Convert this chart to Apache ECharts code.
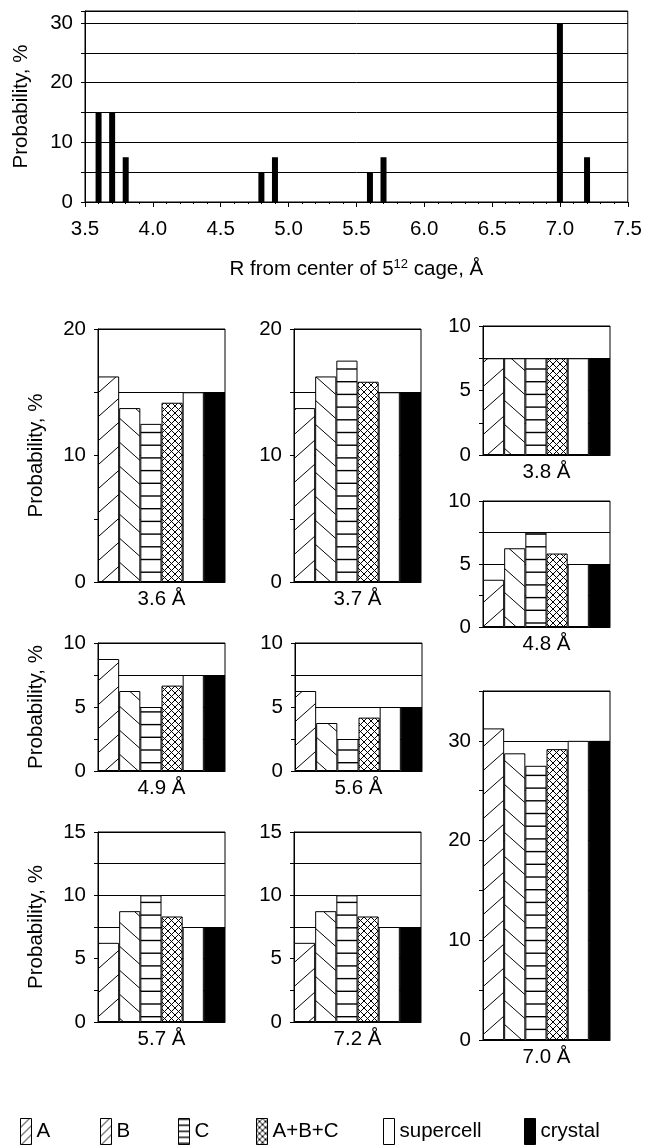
<!DOCTYPE html>
<html><head><meta charset="utf-8">
<script src="https://cdn.jsdelivr.net/npm/echarts@6/dist/echarts.min.js"></script>
<style>html,body{margin:0;padding:0;background:#fff}#c{width:645px;height:1148px}</style>
</head><body><div id="c"></div>
<script>
// ---- data ----
const topR = [3.6, 3.7, 3.8, 4.8, 4.9, 5.6, 5.7, 7.0, 7.2];
const topProb = [15, 15, 7.5, 5, 7.5, 5, 7.5, 30, 7.5];
const panelNames = ['3.6 Å','3.7 Å','3.8 Å','4.8 Å','4.9 Å','5.6 Å','5.7 Å','7.2 Å','7.0 Å'];
const valuesA = [16.25, 13.75, 7.5, 3.75, 8.75, 6.25, 6.25, 6.25, 31.25];
const valuesB = [13.75, 16.25, 7.5, 6.25, 6.25, 3.75, 8.75, 8.75, 28.75];
const valuesC = [12.5, 17.5, 7.5, 7.5, 5, 2.5, 10, 10, 27.5];
const valuesABC = [14.17, 15.83, 7.5, 5.83, 6.67, 4.17, 8.33, 8.33, 29.17];
const valuesSupercell = [15, 15, 7.5, 5, 7.5, 5, 7.5, 7.5, 30];
const valuesCrystal = [15, 15, 7.5, 5, 7.5, 5, 7.5, 7.5, 30];
const seriesNames = ['A', 'B', 'C', 'A+B+C', 'supercell', 'crystal'];
const panelMax = [20, 20, 10, 10, 10, 10, 15, 15, 35];
const panelInterval = [5, 5, 2.5, 2.5, 2.5, 2.5, 2.5, 2.5, 5];
const panelLabelStep = [10, 10, 5, 5, 5, 5, 5, 5, 10];
const topYLabelStep = 10;

// ---- layout ----
const FONT = 'Liberation Sans, Arial, sans-serif';
const FS = 20.5;
const panelBoxes = [
  [98, 329, 127, 253], [294, 329, 127, 253], [483, 326, 127, 129], [483, 501, 127, 126],
  [98, 643, 127, 128], [295, 643, 127, 128], [98, 832, 127, 190], [294, 832, 127, 190],
  [483, 691, 127, 349]
];
const panelWithTitle = [0, 4, 6];

// ---- patterns ----
function diag(W, H, up, lw) {
  const c = document.createElement('canvas'); c.width = W; c.height = H;
  const g = c.getContext('2d'); g.fillStyle = '#fff'; g.fillRect(0, 0, W, H);
  g.strokeStyle = '#000'; g.lineWidth = lw;
  for (let k = -1; k <= 1; k++) {
    g.beginPath();
    if (up) { g.moveTo(k * W, H); g.lineTo(k * W + W, 0); }
    else { g.moveTo(k * W, 0); g.lineTo(k * W + W, H); }
    g.stroke();
  }
  return c;
}
function horiz(step, n) {
  const H = Math.round(step * n), c = document.createElement('canvas'); c.width = 4; c.height = H;
  const g = c.getContext('2d'); g.fillStyle = '#fff'; g.fillRect(0, 0, 4, H);
  g.fillStyle = '#000';
  for (let k = 0; k < n; k++) g.fillRect(0, k * step, 4, 1.4);
  return c;
}
function cross(S) {
  const c = document.createElement('canvas'); c.width = S; c.height = S;
  const g = c.getContext('2d'); g.fillStyle = '#fff'; g.fillRect(0, 0, S, S);
  g.strokeStyle = '#000'; g.lineWidth = 1;
  for (let k = -1; k <= 1; k++) {
    g.beginPath(); g.moveTo(k * S, 0); g.lineTo(k * S + S, S); g.stroke();
    g.beginPath(); g.moveTo(k * S, S); g.lineTo(k * S + S, 0); g.stroke();
  }
  return c;
}
const patA = { image: diag(27, 24, true, 1), repeat: 'repeat' };
const patB = { image: diag(27, 24, false, 1), repeat: 'repeat' };
const patC = { image: horiz(12.7, 10), repeat: 'repeat' };
const patX = { image: cross(7), repeat: 'repeat' };
const fills = [patA, patB, patC, patX, '#ffffff', '#000000'];
const values = [valuesA, valuesB, valuesC, valuesABC, valuesSupercell, valuesCrystal];
// legend swatches (smaller pattern scale, as in the reference key)
const legA = { image: diag(9, 9, true, 1), repeat: 'repeat' };
const legC = { image: horiz(6, 5), repeat: 'repeat' };
const legX = { image: cross(6), repeat: 'repeat' };
const legendFills = [legA, legA, legC, legX, '#ffffff', '#000000'];

const txt = { color: '#000', fontSize: FS, fontFamily: FONT };
const grids = [], xAxes = [], yAxes = [], series = [];

// top chart
grids.push({ left: 85, top: 11, width: 548, height: 191, show: true, borderColor: '#000', borderWidth: 1, backgroundColor: '#fff' });
xAxes.push({
  type: 'value', gridIndex: 0, min: 3.5, max: 7.5, interval: 0.5,
  axisLine: { lineStyle: { color: '#000' } },
  axisTick: { show: true, length: 5, lineStyle: { color: '#000' } },
  minorTick: { show: true, splitNumber: 5, length: 2, lineStyle: { color: '#000' } },
  splitLine: { show: false },
  axisLabel: Object.assign({ margin: 17, formatter: v => v.toFixed(1) }, txt),
  name: 'R from center of 5{sup|12} cage, Å', nameLocation: 'middle', nameGap: 56,
  nameTextStyle: Object.assign({ rich: { sup: { fontSize: 13, fontFamily: FONT, color: '#000', verticalAlign: 'top', padding: [0, 0, 10, 0] } } }, txt)
});
yAxes.push({
  type: 'value', gridIndex: 0, min: 0, max: 32, interval: 5,
  axisLine: { show: true, lineStyle: { color: '#000' } },
  axisTick: { show: true, length: 4, lineStyle: { color: '#000' } },
  splitLine: { show: true, lineStyle: { color: '#000', width: 1 } },
  axisLabel: Object.assign({ margin: 12, formatter: v => (v % topYLabelStep === 0 ? String(v) : '') }, txt),
  name: 'Probability, %', nameLocation: 'middle', nameGap: 53, nameTextStyle: txt
});
series.push({
  type: 'bar', xAxisIndex: 0, yAxisIndex: 0, barWidth: 6, silent: true,
  itemStyle: { color: '#000' },
  data: topR.map((r, i) => [r, topProb[i]])
});

// panels
panelBoxes.forEach((b, p) => {
  const gi = p + 1;
  grids.push({ left: b[0], top: b[1], width: b[2], height: b[3], show: true, borderColor: '#000', borderWidth: 1, backgroundColor: '#fff' });
  xAxes.push({
    type: 'category', gridIndex: gi, data: [panelNames[p]],
    axisLine: { lineStyle: { color: '#000' } }, axisTick: { show: false },
    axisLabel: Object.assign({ margin: 7 }, txt)
  });
  const step = panelLabelStep[p];
  const ya = {
    type: 'value', gridIndex: gi, min: 0, max: panelMax[p], interval: panelInterval[p],
    axisLine: { show: true, lineStyle: { color: '#000' } },
    axisTick: { show: true, length: 4, lineStyle: { color: '#000' } },
    splitLine: { show: true, lineStyle: { color: '#000', width: 1 } },
    axisLabel: Object.assign({ margin: 12, formatter: v => (Math.abs(v % step) < 1e-9 ? String(v) : '') }, txt)
  };
  if (panelWithTitle.includes(p)) {
    Object.assign(ya, { name: 'Probability, %', nameLocation: 'middle', nameGap: 51, nameTextStyle: txt });
  }
  yAxes.push(ya);
  for (let s = 0; s < 6; s++) {
    series.push({
      type: 'bar', name: seriesNames[s], xAxisIndex: gi, yAxisIndex: gi,
      barGap: '0%', barCategoryGap: '0%', silent: true,
      itemStyle: { color: fills[s], borderColor: '#000', borderWidth: 1 },
      data: [values[s][p]]
    });
  }
});

const legendLeft = [20, 100, 178, 256, 383, 524];
const legends = seriesNames.map((n, i) => ({
  left: legendLeft[i], top: 1118, padding: 0, itemGap: 0, itemWidth: 11, itemHeight: 26,
  selectedMode: false, icon: 'rect', textStyle: txt,
  data: [{ name: n, itemStyle: { color: legendFills[i], borderColor: '#000', borderWidth: 1 } }]
}));

const chart = echarts.init(document.getElementById('c'), null, { renderer: 'canvas' });
chart.setOption({
  animation: false, backgroundColor: '#fff',
  grid: grids, xAxis: xAxes, yAxis: yAxes, series: series, legend: legends
});
</script></body></html>
